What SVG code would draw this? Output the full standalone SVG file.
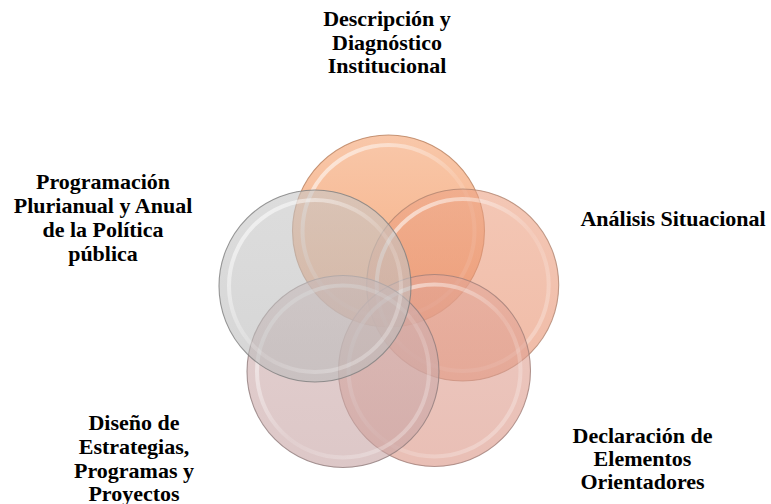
<svg xmlns="http://www.w3.org/2000/svg" width="771" height="504" viewBox="0 0 771 504">
<defs>
<linearGradient id="gTop" x1="0" y1="0" x2="0" y2="1"><stop offset="0" stop-color="#F4A270"/><stop offset="0.6" stop-color="#F18848"/><stop offset="1" stop-color="#EC7434"/></linearGradient>
<linearGradient id="gRight" x1="0" y1="0" x2="0" y2="1"><stop offset="0" stop-color="#ECA284"/><stop offset="1" stop-color="#E68E6C"/></linearGradient>
<linearGradient id="gBR" x1="0" y1="0" x2="0" y2="1"><stop offset="0" stop-color="#E2A698"/><stop offset="1" stop-color="#DA9484"/></linearGradient>
<linearGradient id="gBL" x1="0" y1="0" x2="0" y2="1"><stop offset="0" stop-color="#D0B0B0"/><stop offset="1" stop-color="#C6A2A2"/></linearGradient>
<linearGradient id="gLeft" x1="0" y1="0" x2="0" y2="1"><stop offset="0" stop-color="#C6C6C6"/><stop offset="1" stop-color="#BABABA"/></linearGradient>
<linearGradient id="ring" x1="0" y1="0" x2="1" y2="1"><stop offset="0" stop-color="#FFFFFF" stop-opacity="0.7"/><stop offset="0.55" stop-color="#FFFFFF" stop-opacity="0.12"/><stop offset="1" stop-color="#FFFFFF" stop-opacity="0.35"/></linearGradient>
</defs>
<style>
.c{fill-opacity:0.6;stroke-width:1.1;stroke-opacity:0.8}
.r{fill:none;stroke:url(#ring);stroke-width:4}
.t{font-family:"Liberation Serif","Times New Roman",serif;font-weight:bold;font-size:22px;fill:#000;text-anchor:middle}
</style>
<rect width="771" height="504" fill="#FFFFFF"/>
<g id="circles">
<g id="c-top"><circle class="c" cx="388.5" cy="231" r="96" fill="url(#gTop)" stroke="#B8805E"/><circle class="r" cx="388.5" cy="231" r="86"/></g>
<g id="c-right"><circle class="c" cx="462.7" cy="285" r="96" fill="url(#gRight)" stroke="#B08470"/><circle class="r" cx="462.7" cy="285" r="86"/></g>
<g id="c-bottomright"><circle class="c" cx="434.5" cy="370.5" r="96" fill="url(#gBR)" stroke="#A07E78"/><circle class="r" cx="434.5" cy="370.5" r="86"/></g>
<g id="c-bottomleft"><circle class="c" cx="343" cy="371.5" r="96" fill="url(#gBL)" stroke="#907C7C"/><circle class="r" cx="343" cy="371.5" r="86"/></g>
<g id="c-left"><circle class="c" cx="315" cy="286" r="96" fill="url(#gLeft)" stroke="#7E7E7E"/><circle class="r" cx="315" cy="286" r="86"/></g>
</g>
<g id="connectors"></g>
<g id="label-top"><text class="t" x="387" y="26">Descripción y</text><text class="t" x="387" y="49.5">Diagnóstico</text><text class="t" x="387" y="73.3">Institucional</text></g>
<g id="label-right"><text class="t" x="673" y="226">Análisis Situacional</text></g>
<g id="label-left"><text class="t" x="103" y="188.5">Programación</text><text class="t" x="103" y="213">Plurianual y Anual</text><text class="t" x="103" y="237">de la Política</text><text class="t" x="103" y="260.5">pública</text></g>
<g id="label-bottomleft"><text class="t" x="134" y="429.5">Diseño de</text><text class="t" x="134" y="453.5">Estrategias,</text><text class="t" x="134" y="477.5">Programas y</text><text class="t" x="134" y="500.5">Proyectos</text></g>
<g id="label-bottomright"><text class="t" x="642.5" y="442.5">Declaración de</text><text class="t" x="642.5" y="465.5">Elementos</text><text class="t" x="642.5" y="489">Orientadores</text></g>
</svg>
